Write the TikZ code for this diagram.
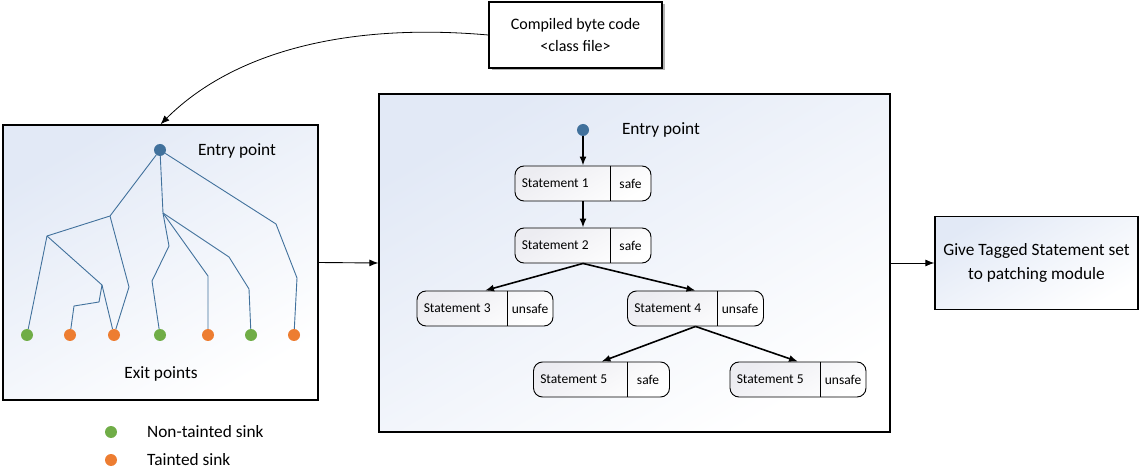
\documentclass[tikz,border=0pt]{standalone}
\usepackage{fontspec}
\setmainfont{Carlito}
\usetikzlibrary{arrows.meta,shadows}
\definecolor{tblue}{RGB}{65,113,156}
\definecolor{tgreen}{RGB}{112,173,71}
\definecolor{torange}{RGB}{237,125,49}
\definecolor{lblue}{RGB}{226,233,246}
\definecolor{lgray}{RGB}{236,236,241}
\tikzset{
  bigbox/.style={draw=black, line width=1.3pt, top color=lblue, bottom color=white, shading angle=30},
  dot/.style={circle, inner sep=0pt, minimum size=12pt},
  tline/.style={draw=tblue, line width=0.9pt},
  lbl/.style={font=\fontsize{17.3}{20}\selectfont, inner sep=0pt},
  slbl/.style={font=\fontsize{13.5}{16}\selectfont, inner sep=0pt},
  stbox/.style={draw=black, line width=0.9pt, rounded corners=9pt, minimum width=136pt, minimum height=35pt, inner sep=0pt, top color=lgray, bottom color=white, shading angle=30},
  flow/.style={line width=1.6pt, -{Latex[length=9pt,width=7pt]}},
  conn/.style={line width=0.9pt, -{Latex[length=9pt,width=7pt]}}
}
\begin{document}
\begin{tikzpicture}[x=1pt,y=-1pt]
\useasboundingbox (0,0) rectangle (1141,470);
% boxes
\node[bigbox, minimum width=315pt, minimum height=275pt, inner sep=0pt] (lbox) at (160.5,262.5) {};
\node[bigbox, minimum width=511pt, minimum height=338pt, inner sep=0pt] (mbox) at (634.5,263) {};
\node[bigbox, minimum width=203pt, minimum height=93pt, inner sep=0pt, align=center, lbl] (rbox) at (1036.5,263) {Give Tagged Statement set\\[4pt]to patching module};
\node[draw=black, line width=1.5pt, fill=white, minimum width=173pt, minimum height=66pt, inner sep=0pt, align=center, font=\fontsize{16}{19}\selectfont,
  drop shadow={shadow xshift=2.5pt, shadow yshift=-2.5pt, opacity=0.6}] (top) at (575.5,35) {Compiled byte code\\[3pt]<class file>};
% connectors between boxes
\draw[line width=0.8pt, -{Latex[length=9pt,width=7pt]}] (top.west) .. controls (340,22) and (230,55) .. (lbox.north);
\draw[conn] (lbox.east) -- (mbox.west);
\draw[conn] (mbox.east) -- (rbox.west);
% left tree
\node[dot, fill=tblue] (root) at (160,150) {};
\node[lbl] (lentry) at (237,151) {Entry point};
\node[dot, fill=tgreen] (e1) at (27,335) {};
\node[dot, fill=torange] (e2) at (70,335) {};
\node[dot, fill=torange] (e3) at (114,335) {};
\node[dot, fill=tgreen] (e4) at (160,335) {};
\node[dot, fill=torange] (e5) at (208,335) {};
\node[dot, fill=tgreen] (e6) at (251,335) {};
\node[dot, fill=torange] (e7) at (294,335) {};
\node[lbl] (lexit) at (161,374) {Exit points};
\coordinate (a) at (110,216);
\coordinate (a1) at (47,236);
\coordinate (a2) at (102,285);
\coordinate (a3) at (99,302);
\coordinate (a4) at (74,306);
\coordinate (a5) at (129,287);
\coordinate (b) at (163,213);
\coordinate (b1) at (169,246);
\coordinate (b2) at (152,281);
\coordinate (b3) at (208,276);
\coordinate (b4) at (229,257);
\coordinate (b5) at (249,289);
\coordinate (c) at (276,224);
\coordinate (c1) at (297,278);
\draw[tline] (root) -- (a) -- (a1) -- (e1);
\draw[tline] (a1) -- (a2) -- (a3) -- (a4) -- (e2);
\draw[tline] (a2) -- (e3);
\draw[tline] (a) -- (a5) -- (e3);
\draw[tline] (root) -- (b) -- (b1) -- (b2) -- (e4);
\draw[tline] (b) -- (b3) -- (e5);
\draw[tline] (b) -- (b4) -- (b5) -- (e6);
\draw[tline] (root) -- (c) -- (c1) -- (e7);
% legend
\node[dot, fill=tgreen] (g1) at (111,432) {};
\node[lbl, anchor=west] (g1t) at (147,432) {Non-tainted sink};
\node[dot, fill=torange] (g2) at (111,460) {};
\node[lbl, anchor=west] (g2t) at (147,460) {Tainted sink};
% middle flow
\node[dot, fill=tblue] (mroot) at (583,130) {};
\node[lbl] (mentry) at (661,130) {Entry point};
\node[stbox] (s1) at (583,183.5) {};
\node[stbox] (s2) at (583,245.5) {};
\node[stbox] (s3) at (485,308.5) {};
\node[stbox] (s4) at (695.5,308.5) {};
\node[stbox] (s5) at (601.5,379.5) {};
\node[stbox] (s6) at (798,379.5) {};
\foreach \n/\d/\t/\g in {s1/96/Statement 1/safe, s2/96/Statement 2/safe, s3/91/Statement 3/unsafe, s4/90/Statement 4/unsafe, s5/94/Statement 5/safe, s6/91/Statement 5/unsafe}{
  \draw[line width=0.9pt] ([xshift=\d pt]\n.north west) -- ([xshift=\d pt]\n.south west);
  \node[slbl, anchor=west] at ([xshift=7pt]\n.west) {\t};
  \node[slbl] at ([xshift={(\d+136)/2}]\n.west) {\g};
}
\draw[flow] (mroot) -- (s1.north);
\draw[flow] (s1.south) -- (s2.north);
\draw[flow] (s2.south) -- (s3.north);
\draw[flow] (s2.south) -- (s4.north);
\draw[flow] (s4.south) -- (s5.north);
\draw[flow] (s4.south) -- (s6.north);
\end{tikzpicture}
\end{document}
